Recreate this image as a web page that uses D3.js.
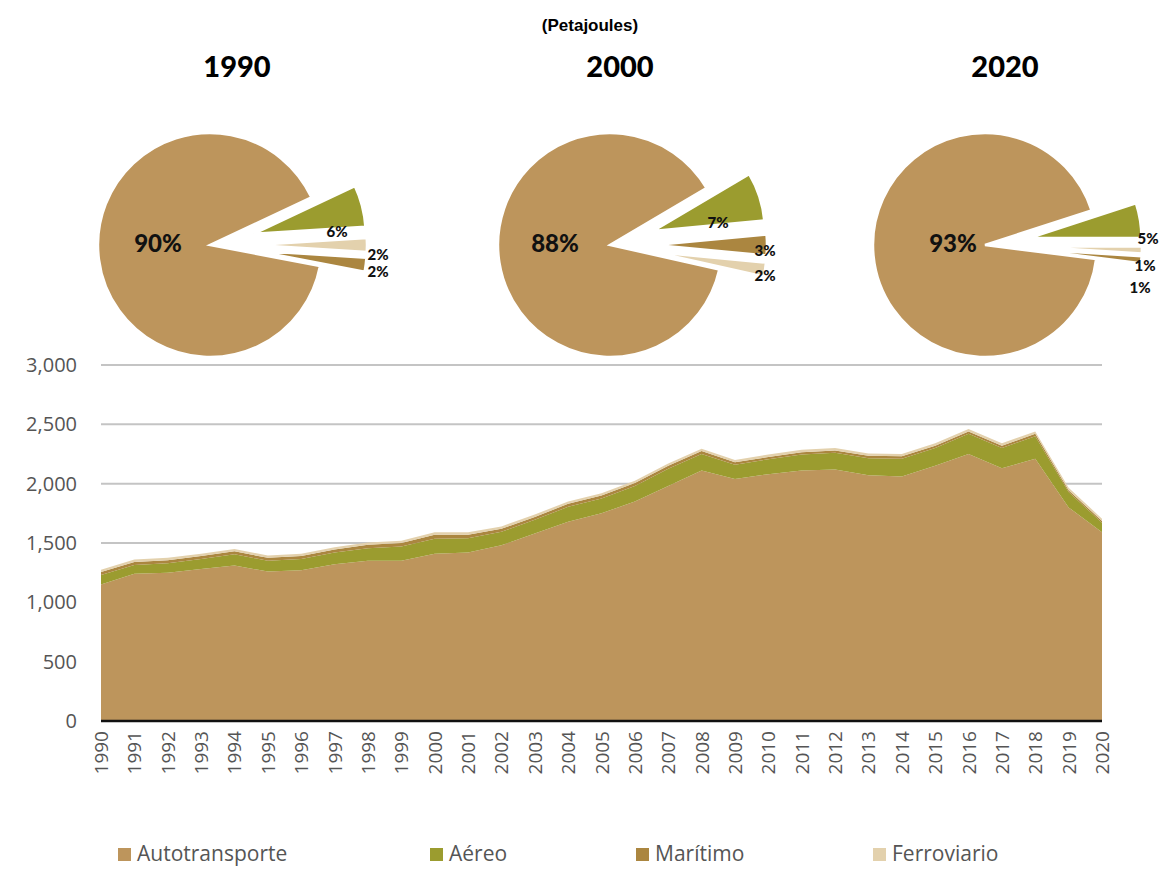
<!doctype html>
<html>
<head>
<meta charset="utf-8"/>
<script src="https://d3js.org/d3.v7.min.js"></script>
<style>
  body { margin: 0; background: #fff; }
  text { font-family: "Open Sans", sans-serif; }
</style>
</head>
<body>
<svg width="1167" height="870"></svg>
<script>
var years = d3.range(1990, 2021);
var autotransporte = [1150,1240,1250,1280,1310,1260,1270,1320,1350,1350,1410,1420,1480,1580,1680,1750,1850,1980,2110,2040,2080,2110,2120,2070,2060,2150,2250,2130,2210,1800,1590];
var aereo = [80,75,80,85,95,90,95,100,105,120,125,120,115,115,125,125,130,145,140,120,125,135,140,145,150,150,170,170,190,130,80];
var maritimo = [25,25,25,25,25,25,25,25,30,30,35,30,25,25,25,25,25,25,25,20,20,20,20,20,20,20,20,20,20,15,15];
var ferroviario = [20,20,20,20,20,20,20,20,20,20,20,20,20,20,20,20,20,20,20,20,20,20,20,20,20,20,20,20,20,20,20];
var seriesNames = ["Autotransporte", "Aéreo", "Marítimo", "Ferroviario"];
var colors = {"Autotransporte": "#bd955c", "Aéreo": "#9b9c2f", "Marítimo": "#ab8640", "Ferroviario": "#e3d1ad"};
var yTicks = [0, 500, 1000, 1500, 2000, 2500, 3000];

// pies: slices in drawing order (clockwise from start angle)
var pies = [
  {year: "1990", cx: 210, start: 0.36, titleX: 237, slices: [["Aéreo",6],["Ferroviario",2],["Marítimo",2],["Autotransporte",90]],
   labels: [[337,237],[378,260],[378,277],[158,252]]},
  {year: "2000", cx: 610, start: 0.33, titleX: 620, slices: [["Aéreo",7],["Marítimo",3],["Ferroviario",2],["Autotransporte",88]],
   labels: [[718,228],[765,256],[765,281],[555,252]]},
  {year: "2020", cx: 985, start: 0.40, titleX: 1005, slices: [["Aéreo",5],["Ferroviario",1],["Marítimo",1],["Autotransporte",93]],
   labels: [[1148,244],[1145,271],[1140,293],[953,252]]}
];

var svg = d3.select("svg");

svg.append("text").attr("x", 590).attr("y", 31).attr("text-anchor", "middle")
  .style("font-family", "Liberation Sans, Arial").style("font-weight", "bold").style("font-size", "17px")
  .text("(Petajoules)");

var arc = d3.arc().innerRadius(0).outerRadius(112);
pies.forEach(function(p) {
  svg.append("text").attr("x", p.titleX).attr("y", 77).attr("text-anchor", "middle")
    .style("font-family", "Lato").style("font-weight", "900").style("font-size", "29px").text(p.year);
  var pie = d3.pie().sort(null).value(function(d) { return d[1]; })
    .startAngle(Math.PI * p.start).endAngle(Math.PI * p.start + 2 * Math.PI);
  var g = svg.append("g").attr("transform", "translate(" + p.cx + ",245)");
  var arcs = pie(p.slices);
  arcs.forEach(function(a, i) {
    var big = a.data[0] === "Autotransporte";
    var mid = (a.startAngle + a.endAngle) / 2;
    var off = big ? 0 : 45;
    var dx = Math.sin(mid) * off, dy = -Math.cos(mid) * off;
    g.append("path").attr("d", arc(a)).attr("transform", "translate(" + dx + "," + dy + ")")
      .attr("fill", colors[a.data[0]]).attr("stroke", "#fff").attr("stroke-width", 2.5);
    svg.append("text").attr("x", p.labels[i][0]).attr("y", p.labels[i][1])
      .attr("text-anchor", big || a.data[0] === "Aéreo" && p.year !== "2020" ? "middle" : "middle")
      .style("font-family", "Lato").style("font-weight", "900").style("font-size", big ? "24px" : "15px")
      .attr("fill", "#111").text(a.data[1] + "%");
  });
});

// area chart
var x = d3.scaleLinear().domain([1990, 2020]).range([101, 1102]);
var y = d3.scaleLinear().domain([0, 3000]).range([721, 365]);

svg.append("g").selectAll("line").data(yTicks.slice(1)).enter().append("line")
  .attr("x1", 101).attr("x2", 1102).attr("y1", y).attr("y2", y)
  .attr("stroke", "#c4c4c4").attr("stroke-width", 2);

var table = years.map(function(yr, i) {
  return {year: yr, "Autotransporte": autotransporte[i], "Aéreo": aereo[i], "Marítimo": maritimo[i], "Ferroviario": ferroviario[i]};
});
var stacked = d3.stack().keys(seriesNames)(table);
var area = d3.area().x(function(d) { return x(d.data.year); }).y0(function(d) { return y(d[0]); }).y1(function(d) { return y(d[1]); });
svg.append("g").selectAll("path").data(stacked).enter().append("path")
  .attr("d", area).attr("fill", function(d) { return colors[d.key]; });

svg.append("line").attr("x1", 101).attr("x2", 1102).attr("y1", y(0)).attr("y2", y(0))
  .attr("stroke", "#111").attr("stroke-width", 2.5);

svg.append("g").selectAll("text").data(yTicks).enter().append("text")
  .attr("x", 77).attr("y", function(d) { return y(d) + 7; }).attr("text-anchor", "end")
  .style("font-size", "20px").attr("fill", "#555").text(d3.format(","));

svg.append("g").selectAll("text").data(years).enter().append("text")
  .attr("transform", function(d) { return "translate(" + (x(d) + 7) + ",731) rotate(-90)"; })
  .attr("text-anchor", "end").style("font-size", "19px").attr("fill", "#555").text(function(d) { return d; });

// legend
var legX = [118, 430, 636, 873];
var leg = svg.append("g").selectAll("g").data(seriesNames).enter().append("g")
  .attr("transform", function(d, i) { return "translate(" + legX[i] + ",848)"; });
leg.append("rect").attr("width", 13).attr("height", 13).attr("fill", function(d) { return colors[d]; });
leg.append("text").attr("x", 19).attr("y", 13).style("font-size", "21px").attr("fill", "#555").text(function(d) { return d; });
</script>
</body>
</html>
